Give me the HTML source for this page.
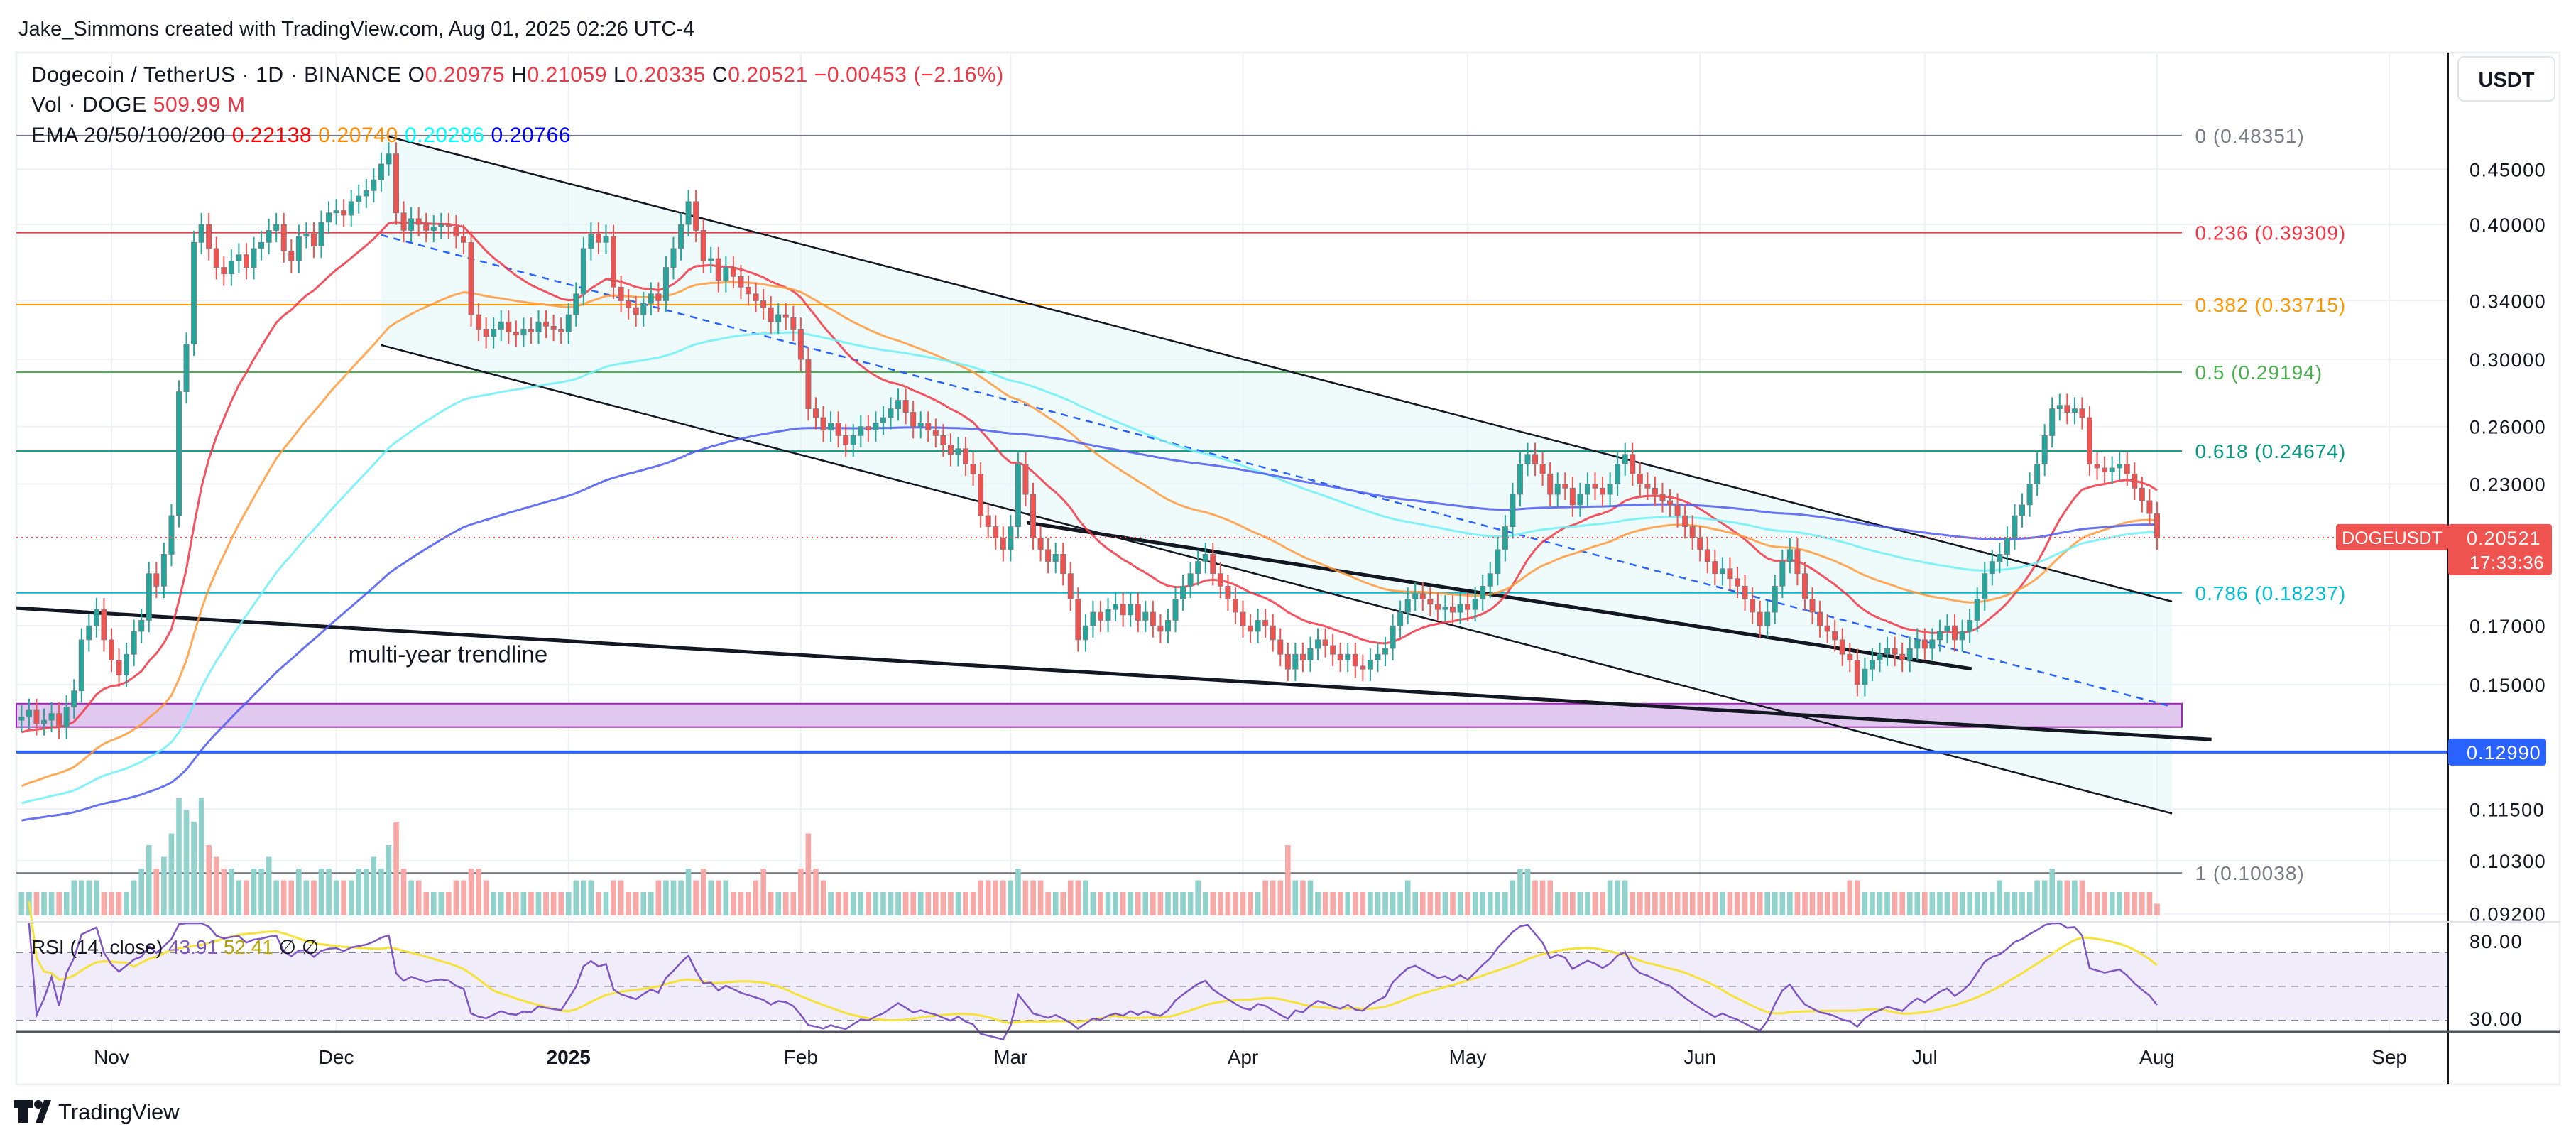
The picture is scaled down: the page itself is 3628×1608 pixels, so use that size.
<!DOCTYPE html>
<html><head><meta charset="utf-8">
<style>
html,body{margin:0;padding:0;background:#fff;}
svg{display:block;font-family:"Liberation Sans",sans-serif;}
</style></head>
<body>
<svg id="chart" width="3628" height="1608" viewBox="0 0 3628 1608" xmlns="http://www.w3.org/2000/svg">
<rect width="3628" height="1608" fill="#fff"/>
<text x="26" y="50" font-size="29" fill="#131722">Jake_Simmons created with TradingView.com, Aug 01, 2025 02:26 UTC-4</text>
<rect x="23" y="74" width="3582" height="1453" fill="none" stroke="#eef0f3" stroke-width="3"/>
<g id="grid"></g>
<g id="drawings"></g>
<g id="ema"></g>
<g id="vol"></g>
<g id="candles"></g>
<g id="rsi"></g>
<g id="axes"></g>
<g id="legend">
<text x="44" y="115" font-size="30" letter-spacing="0.6" fill="#131722">Dogecoin / TetherUS · 1D · BINANCE  O<tspan fill="#f23645">0.20975</tspan>  H<tspan fill="#f23645">0.21059</tspan>  L<tspan fill="#f23645">0.20335</tspan>  C<tspan fill="#f23645">0.20521</tspan>  <tspan fill="#f23645">−0.00453 (−2.16%)</tspan></text>
<text x="44" y="157" font-size="30" letter-spacing="0.6" fill="#131722">Vol · DOGE  <tspan fill="#f23645">509.99 M</tspan></text>
<text x="44" y="200" font-size="30" letter-spacing="0.6" fill="#131722">EMA 20/50/100/200  <tspan fill="#ff0000">0.22138</tspan>  <tspan fill="#ff8c00">0.20740</tspan>  <tspan fill="#00ffff">0.20286</tspan>  <tspan fill="#0000ff">0.20766</tspan></text>
<text x="44" y="1343" font-size="28" fill="#131722">RSI (14, close)  <tspan fill="#7e57c2">43.91</tspan>  <tspan fill="#b8a500">52.41</tspan>  ∅  ∅</text>
</g>
<rect x="3462" y="80" width="136" height="62" rx="8" fill="#fff" stroke="#e0e3eb" stroke-width="2"/>
<text x="3530" y="122" font-size="29" text-anchor="middle" fill="#131722" font-weight="bold">USDT</text>
<g>
<rect x="26" y="1549" width="14" height="32" fill="#131722"/><rect x="20" y="1549" width="26" height="11" fill="#131722"/><circle cx="54" cy="1555" r="6" fill="#131722"/><path d="M50 1581 L62 1549 L72 1549 L60 1581 Z" fill="#131722"/>
<text x="82" y="1576" font-size="31" fill="#131722">TradingView</text>
</g>
</svg>
<script>
const NS='http://www.w3.org/2000/svg';
// ---- data: daily closes starting Oct 20, 2024 (index 12 = Nov 1), last = Aug 1, 2025
const closes=[
0.140,0.142,0.138,0.139,0.141,0.137,0.143,0.148,0.165,0.170,0.176,0.165,
0.158,0.153,0.160,0.168,0.172,0.190,0.185,0.198,0.215,0.280,0.310,0.385,0.400,0.380,0.365,0.360,0.370,0.375,0.365,0.380,0.385,0.395,0.400,0.378,0.370,0.390,0.392,0.382,0.402,0.410,
0.412,0.408,0.420,0.425,0.430,0.440,0.455,0.465,0.410,0.395,0.405,0.400,0.395,0.398,0.400,0.398,0.390,0.385,0.330,0.320,0.315,0.320,0.325,0.318,0.316,0.320,0.318,0.325,0.322,0.320,0.318,
0.330,0.345,0.380,0.392,0.385,0.390,0.350,0.340,0.335,0.330,0.338,0.345,0.340,0.365,0.380,0.400,0.420,0.395,0.370,0.372,0.355,0.365,0.358,0.350,0.345,0.340,0.335,0.325,0.330,0.328,0.320,
0.300,0.270,0.265,0.258,0.262,0.255,0.250,0.255,0.260,0.258,0.262,0.265,0.270,0.275,0.268,0.260,0.262,0.258,0.255,0.250,0.245,0.248,0.240,0.235,0.215,0.210,0.205,0.200,
0.210,0.240,0.225,0.205,0.200,0.195,0.198,0.190,0.180,0.165,0.170,0.175,0.172,0.176,0.178,0.174,0.178,0.172,0.175,0.170,0.168,0.172,0.180,0.185,0.190,0.195,0.198,0.190,0.185,0.180,0.175,
0.170,0.168,0.172,0.170,0.165,0.160,0.155,0.160,0.158,0.162,0.165,0.163,0.160,0.158,0.160,0.156,0.155,0.158,0.160,0.162,0.170,0.175,0.180,0.182,0.180,0.178,0.176,0.177,0.175,0.178,
0.176,0.180,0.185,0.190,0.200,0.210,0.225,0.240,0.245,0.240,0.235,0.225,0.230,0.228,0.220,0.225,0.230,0.228,0.225,0.230,0.240,0.245,0.235,0.230,0.228,0.225,0.222,0.220,0.215,0.210,0.205,
0.200,0.195,0.190,0.192,0.188,0.185,0.180,0.175,0.170,0.175,0.185,0.195,0.200,0.190,0.180,0.175,0.170,0.168,0.165,0.160,0.158,0.150,0.155,0.158,0.160,0.162,0.160,0.158,0.162,0.165,
0.162,0.165,0.168,0.170,0.165,0.168,0.172,0.180,0.190,0.195,0.198,0.205,0.215,0.220,0.230,0.240,0.255,0.270,0.272,0.268,0.270,0.265,0.240,0.238,0.236,0.238,0.240,0.235,0.228,0.222,0.216,
0.205];
const volumes=[
2,2,2,2,2,2,2,3,3,3,3,2,
2,2,2,3,4,6,4,5,7,10,9,8,10,6,5,4,4,3,3,4,4,5,3,3,3,4,3,3,4,4,
3,3,3,4,4,5,4,6,8,4,3,3,2,2,2,2,3,3,4,4,3,2,2,2,2,2,2,2,2,2,2,
2,3,3,3,2,2,3,3,2,2,2,2,3,3,3,3,4,3,4,3,3,3,2,2,2,3,4,2,2,2,2,
4,7,4,3,2,2,2,2,2,2,2,2,2,2,2,2,2,2,2,2,2,2,2,2,3,3,3,3,
3,4,3,3,3,2,2,2,3,3,3,2,2,2,2,2,2,2,2,2,2,2,2,2,2,3,2,2,2,2,2,
2,2,2,3,3,3,6,3,3,3,2,2,2,2,2,2,2,2,2,2,2,2,3,2,2,2,2,2,2,2,
2,2,2,2,2,2,3,4,4,3,3,3,2,2,2,2,2,2,2,3,3,3,2,2,2,2,2,2,2,2,2,
2,2,2,2,2,2,2,2,2,2,2,2,2,2,2,2,2,2,2,2,3,3,2,2,2,2,2,2,2,2,
2,2,2,2,2,2,2,2,2,2,3,2,2,2,2,3,3,4,3,3,3,3,2,2,2,2,2,2,2,2,2,
1];
const firstOpen=0.139;
const emaPeriods=[20,50,100,200];
const emaSeeds=[0.135,0.120,0.116,0.112];
const emaColors=['#f23645','#ff9a3c','#6ff0f7','#4d5bf0'];
const priceTicks=[0.45,0.40,0.34,0.30,0.26,0.23,0.17,0.15,0.115,0.103,0.092];
const monthLabels=['Nov','Dec','2025','Feb','Mar','Apr','May','Jun','Jul','Aug','Sep'];
const monthIndex=[12,42,73,104,132,163,193,224,254,285,316];
const fibRatios=['0','0.236','0.382','0.5','0.618','0.786','1'];
const fibPrices=[0.48351,0.39309,0.33715,0.29194,0.24674,0.18237,0.10038];
const fibColors=['#787b86','#f23645','#ff9800','#4caf50','#089981','#00bcd4','#787b86'];

// ---- axis functions
const PLOT_R=3448;
function xOf(i){return 157+(i-12)*10.553;}
function yOf(p){return 238.3+660.4*(Math.log(0.45)-Math.log(p));}
function yVol(v){return 1289-v*16.5;}
function yRsi(r){return 1437-(r-30)*2.4;}

function mk(tag,attrs,parent){const e=document.createElementNS(NS,tag);for(const k in attrs)e.setAttribute(k,attrs[k]);parent.appendChild(e);return e;}
const G=id=>document.getElementById(id);

// grid
const grid=G('grid');
for(let k=0;k<monthIndex.length;k++){
  const l=mk('line',{x1:xOf(monthIndex[k]),x2:xOf(monthIndex[k]),y1:76,y2:1453,stroke:'#eef1f5','stroke-width':2},grid);
  
  
}
for(const p of priceTicks){
  const l=mk('line',{x1:23,x2:PLOT_R,y1:yOf(p),y2:yOf(p),stroke:'#eef1f5','stroke-width':2},grid);
  
  
}

// drawings
const dr=G('drawings');
function tx(t){return t*2.314;}
const ch=mk('polygon',{points:`${tx(232)},${tx(82)} ${tx(1322)},${tx(366)} ${tx(1322)},${tx(495)} ${tx(232)},${tx(210)}`,fill:'#e0f7f8','fill-opacity':0.5},dr);


const box=mk('rect',{x:23,y:yOf(0.144),width:tx(1328)-23,height:yOf(0.137)-yOf(0.144),fill:'#e1c8ee',stroke:'#9c27b0','stroke-width':2},dr);


for(let k=0;k<fibPrices.length;k++){
  const y=yOf(fibPrices[k]);
  const l=mk('line',{x1:23,x2:tx(1328),y1:y,y2:y,stroke:fibColors[k],'stroke-width':2},dr);
  
  
  const t=mk('text',{x:tx(1336),y:y+10,'font-size':28,fill:fibColors[k],'letter-spacing':'1'},dr);
  t.textContent=fibRatios[k]+' ('+fibPrices[k].toFixed(5)+')';
  
  
}
const lines=[
 ['channel-upper-line',236,83,1322,366,'#131722',2.5,''],
 ['channel-lower-line',232,210,1322,495,'#131722',2.5,''],
 ['channel-median-line',232,143,1322,430,'#2962ff',2.5,'10 8'],
 ['multi-year-trendline',10,370,1346,450,'#131722',5,''],
 ['short-trendline',625,318,1200,407,'#131722',5,'']];
for(const L of lines){
  const l=mk('line',{x1:tx(L[1]),y1:tx(L[2]),x2:tx(L[3]),y2:tx(L[4]),stroke:L[5],'stroke-width':L[6]},dr);
  if(L[7])l.setAttribute('stroke-dasharray',L[7]);
  
  
}
const bl=mk('line',{x1:23,x2:PLOT_R,y1:yOf(0.1299),y2:yOf(0.1299),stroke:'#2962ff','stroke-width':4},dr);


const tl=mk('text',{x:tx(212),y:tx(403),'font-size':33,fill:'#131722'},dr);
tl.textContent='multi-year trendline';



// EMAs
const emaG=G('ema');
for(let k=0;k<emaPeriods.length;k++){
  const a=2/(emaPeriods[k]+1);let e=emaSeeds[k];let pts=[];
  for(let i=0;i<closes.length;i++){e=e+a*(closes[i]-e);pts.push(xOf(i).toFixed(1)+','+yOf(e).toFixed(1));}
  const pl=mk('polyline',{points:pts.join(' '),fill:'none',stroke:emaColors[k],'stroke-width':3,'stroke-opacity':0.85},emaG);
  
  
}

// candles & volume
const cg=G('candles'),vg=G('vol');
for(let i=0;i<closes.length;i++){
  const o=i?closes[i-1]:firstOpen,c=closes[i];
  const up=c>=o,col=up?'#26a69a':'#ef5350';
  const hi=Math.max(o,c)*1.025,lo=Math.min(o,c)*0.975,x=xOf(i);
  const w=mk('line',{x1:x,x2:x,y1:yOf(hi),y2:yOf(lo),stroke:col,'stroke-width':2},cg);
  
  
  const yt=yOf(Math.max(o,c)),yb=yOf(Math.min(o,c));
  const b=mk('rect',{x:x-3.6,y:yt,width:7.2,height:Math.max(2,yb-yt),fill:col,stroke:'#787b86','stroke-width':0.8},cg);
  
  
  const v=mk('rect',{x:x-3.8,y:yVol(volumes[i]),width:7.6,height:1289-yVol(volumes[i]),fill:up?'#92d2cc':'#f7a9a7'},vg);
  
  
}
const cur=mk('line',{x1:23,x2:PLOT_R,y1:yOf(0.20521),y2:yOf(0.20521),stroke:'#ef5350','stroke-width':2,'stroke-dasharray':'2 5'},cg);



// RSI
const rg=G('rsi');
const rb=mk('rect',{x:23,y:yRsi(70),width:PLOT_R-23,height:yRsi(30)-yRsi(70),fill:'#f0ecf9'},rg);


for(const lv of [70,50,30]){
  const l=mk('line',{x1:23,x2:PLOT_R,y1:yRsi(lv),y2:yRsi(lv),stroke:'#787b86','stroke-width':2,'stroke-dasharray':'10 8','stroke-opacity':lv==50?0.5:0.9},rg);
  
  
}
let ag=0,al=0,rsi=[];
for(let i=1;i<closes.length;i++){
  const d=closes[i]-closes[i-1],gg=Math.max(d,0),ll=Math.max(-d,0);
  if(i<=14){ag+=gg/14;al+=ll/14;}else{ag=(ag*13+gg)/14;al=(al*13+ll)/14;}
  rsi.push([i,al===0?100:100-100/(1+ag/al)]);
}
let rp=[],mp=[];
for(let k=0;k<rsi.length;k++){
  rp.push(xOf(rsi[k][0]).toFixed(1)+','+Math.max(1300,yRsi(rsi[k][1])).toFixed(1));
  const s=rsi.slice(Math.max(0,k-13),k+1);const m=s.reduce((a,b)=>a+b[1],0)/s.length;
  mp.push(xOf(rsi[k][0]).toFixed(1)+','+yRsi(m).toFixed(1));
}
const ma=mk('polyline',{points:mp.join(' '),fill:'none',stroke:'#f5e23b','stroke-width':3},rg);


const rl=mk('polyline',{points:rp.join(' '),fill:'none',stroke:'#7e57c2','stroke-width':2.5},rg);



// axes
const ax=G('axes');
function line(n,a){const l=mk('line',a,ax);}
line('price-axis-border',{x1:PLOT_R,x2:PLOT_R,y1:74,y2:1527,stroke:'#131722','stroke-width':2});
line('pane-separator',{x1:23,x2:3605,y1:1298,y2:1298,stroke:'#e0e3eb','stroke-width':2});
line('time-axis-border',{x1:23,x2:3605,y1:1453,y2:1453,stroke:'#50535e','stroke-width':3});
function txt(n,x,y,s,c,str,extra){const t=mk('text',Object.assign({x:x,y:y,'font-size':s,fill:c},extra||{}),ax);t.textContent=str;return t;}
for(const p of priceTicks){txt('price-tick-label',3478,yOf(p)+10,27,'#131722',p.toFixed(5),{'letter-spacing':'1.5'});}
txt('rsi-tick-label',3478,1335,27,'#131722','80.00',{'letter-spacing':'1.5'});
txt('rsi-tick-label',3478,1444,27,'#131722','30.00',{'letter-spacing':'1.5'});
for(let k=0;k<monthLabels.length;k++){
  txt('time-tick-label',xOf(monthIndex[k]),1498,28,'#131722',monthLabels[k],{'text-anchor':'middle','font-weight':monthLabels[k]==='2025'?'bold':'normal'});
}
// price tags
const yc=yOf(0.20521);
const r1=mk('rect',{x:3290,y:yc-19,width:158,height:37,rx:4,fill:'#ef5350'},ax);


txt('symbol-tag-text',3369,yc+9,25,'#fff','DOGEUSDT',{'text-anchor':'middle'});
const r2=mk('rect',{x:3448,y:yc-19,width:146,height:72,rx:4,fill:'#ef5350'},ax);


txt('last-price-text',3474,yc+10,27,'#fff','0.20521',{'letter-spacing':'1'});
txt('countdown-text',3478,yc+44,26,'#fff','17:33:36',{'letter-spacing':'0.5'});
const yb2=yOf(0.1299);
const r3=mk('rect',{x:3448,y:yb2-19,width:138,height:38,rx:4,fill:'#2962ff'},ax);


txt('level-price-text',3474,yb2+10,27,'#fff','0.12990',{'letter-spacing':'1'});
</script>
</body></html>
